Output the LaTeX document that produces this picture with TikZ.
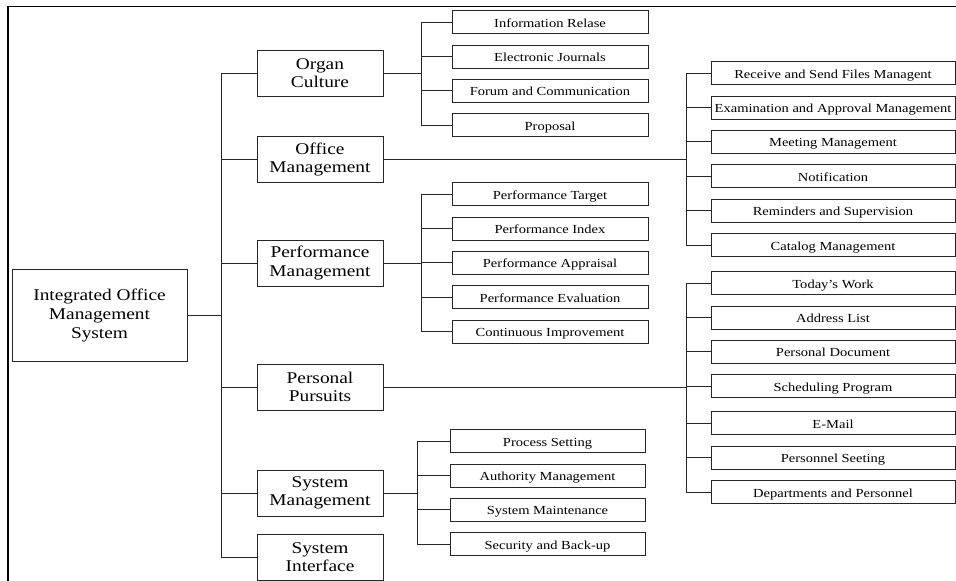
\documentclass[tikz,border=0pt]{standalone}
\usepackage{fontspec}
\setmainfont{Liberation Serif}[FakeStretch=1.18]
\usepackage{tikz}
\usetikzlibrary{positioning, calc}

\begin{document}
\begin{tikzpicture}[
    x=1pt, y=-1pt,
    node distance=10.6pt,
    rootnode/.style={rectangle, draw=black!85, line width=0.8pt, minimum width=175pt, minimum height=92pt, align=center, font=\fontsize{16.4}{19}\selectfont},
    groupnode/.style={rectangle, draw=black!85, line width=0.8pt, minimum width=126pt, minimum height=46pt, align=center, inner sep=1pt, font=\fontsize{16.4}{18.4}\selectfont},
    leafnode/.style={rectangle, draw=black!85, line width=0.8pt, minimum width=196pt, minimum height=23pt, inner sep=1pt, text height=10pt, text depth=0pt, font=\fontsize{12.3}{14}\selectfont},
    wideleaf/.style={leafnode, minimum width=244pt},
    link/.style={draw=black!85, line width=0.8pt}
]
    \useasboundingbox (0,0) rectangle (956,581);
    % Frame
    \draw [line width=1.8pt] (8,581) -- (8,6.5) -- (956,6.5);

    % Nodes
    \node (ioms) [rootnode] at (99.5,315) {Integrated Office\\Management\\System};
    \node (organ) [groupnode] at (320,73) {Organ\\Culture};
    \node (office) [groupnode] at (320,159.5) {Office\\Management};
    \node (perf) [groupnode] at (320,263) {Performance\\Management};
    \node (pers) [groupnode] at (320,387) {Personal\\Pursuits};
    \node (sysm) [groupnode] at (320,493) {System\\Management};
    \node (sysi) [groupnode] at (320,557) {System\\Interface};

    % Organ Culture
    \node (inforel) [leafnode] at (550,22) {Information Relase};
    \node (ejour) [leafnode, below=of inforel] {Electronic Journals};
    \node (forum) [leafnode, below=of ejour] {Forum and Communication};
    \node (prop) [leafnode, below=of forum] {Proposal};

    % Office Management
    \node (recv) [wideleaf] at (833,73) {Receive and Send Files Managent};
    \node (exam) [wideleaf, below=of recv] {Examination and Approval Management};
    \node (meet) [wideleaf, below=of exam] {Meeting Management};
    \node (notif) [wideleaf, below=of meet] {Notification};
    \node (remind) [wideleaf, below=of notif] {Reminders and Supervision};
    \node (catalog) [wideleaf, below=of remind] {Catalog Management};

    % Performance Management
    \node (ptarget) [leafnode] at (550,194) {Performance Target};
    \node (pindex) [leafnode, below=of ptarget] {Performance Index};
    \node (pappr) [leafnode, below=of pindex] {Performance Appraisal};
    \node (peval) [leafnode, below=of pappr] {Performance Evaluation};
    \node (cimpr) [leafnode, below=of peval] {Continuous Improvement};

    % Personal Pursuits
    \node (today) [wideleaf] at (833,283) {Today's Work};
    \node (addr) [wideleaf, below=of today] {Address List};
    \node (pdoc) [wideleaf, below=of addr] {Personal Document};
    \node (sched) [wideleaf, below=of pdoc] {Scheduling Program};
    \node (email) [wideleaf, below=13.2pt of sched] {E-Mail};
    \node (pset) [wideleaf, below=of email] {Personnel Seeting};
    \node (dept) [wideleaf, below=of pset] {Departments and Personnel};

    % System Management
    \node (procset) [leafnode, minimum width=195pt] at (547.5,441) {Process Setting};
    \node (auth) [leafnode, minimum width=195pt, below=of procset] {Authority Management};
    \node (maint) [leafnode, minimum width=195pt, below=of auth] {System Maintenance};
    \node (secur) [leafnode, minimum width=195pt, below=of maint] {Security and Back-up};

    % Flows
    \foreach \g in {organ, office, perf, pers, sysm, sysi}
        \draw [link] (ioms.east) -| ([xshift=-35pt]\g.west) -- (\g.west);
    \foreach \c in {inforel, ejour, forum, prop}
        \draw [link] (organ.east) -| ([xshift=-30pt]\c.west) -- (\c.west);
    \foreach \c in {recv, exam, meet, notif, remind, catalog}
        \draw [link] (office.east) -| ([xshift=-24pt]\c.west) -- (\c.west);
    \foreach \c in {ptarget, pindex, pappr, peval, cimpr}
        \draw [link] (perf.east) -| ([xshift=-30pt]\c.west) -- (\c.west);
    \foreach \c in {today, addr, pdoc, sched, email, pset, dept}
        \draw [link] (pers.east) -| ([xshift=-24pt]\c.west) -- (\c.west);
    \foreach \c in {procset, auth, maint, secur}
        \draw [link] (sysm.east) -| ([xshift=-32pt]\c.west) -- (\c.west);

\end{tikzpicture}
\end{document}
